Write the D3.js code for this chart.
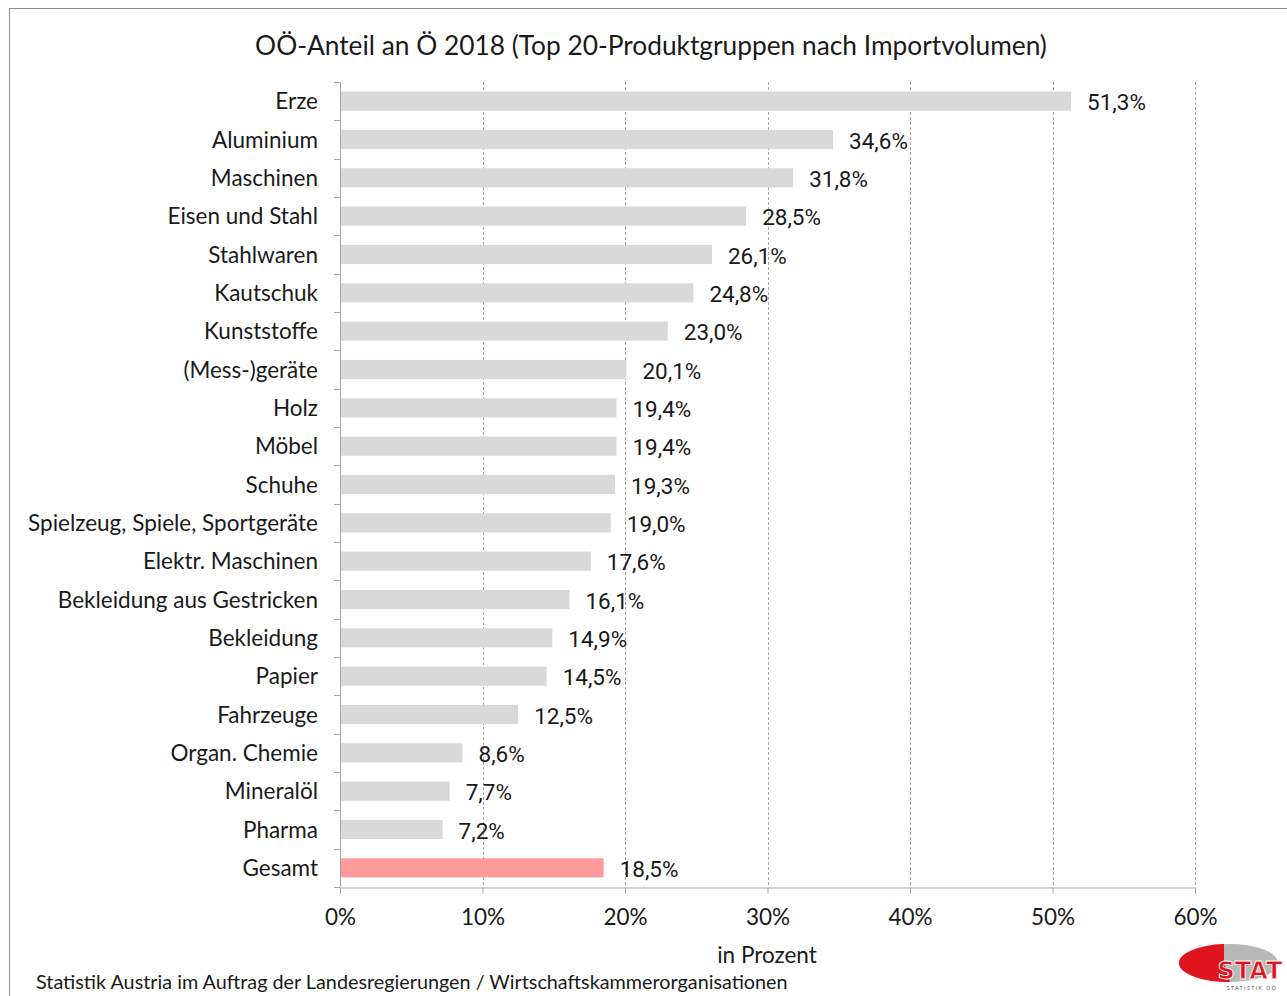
<!DOCTYPE html>
<html>
<head>
<meta charset="utf-8">
<script src="https://cdn.jsdelivr.net/npm/d3@7"></script>
<style>
  body { margin: 0; background: #fff; }
  svg { display: block; font-family: Lato, 'Open Sans', sans-serif; }
</style>
</head>
<body>
<div id="chart"></div>
<script>
(function() {
  'use strict';

  var categories = ['Erze', 'Aluminium', 'Maschinen', 'Eisen und Stahl', 'Stahlwaren', 'Kautschuk',
    'Kunststoffe', '(Mess-)geräte', 'Holz', 'Möbel', 'Schuhe', 'Spielzeug, Spiele, Sportgeräte',
    'Elektr. Maschinen', 'Bekleidung aus Gestricken', 'Bekleidung', 'Papier', 'Fahrzeuge',
    'Organ. Chemie', 'Mineralöl', 'Pharma', 'Gesamt'];
  var shares = [51.3, 34.6, 31.8, 28.5, 26.1, 24.8, 23.0, 20.1, 19.4, 19.4, 19.3, 19.0,
    17.6, 16.1, 14.9, 14.5, 12.5, 8.6, 7.7, 7.2, 18.5];
  var xTicks = [0, 10, 20, 30, 40, 50, 60];

  var width = 1287, height = 996;
  var left = 340, right = 1195, top = 82, bottom = 887;

  var svg = d3.select('#chart').append('svg')
    .attr('width', width).attr('height', height);

  // outer frame
  svg.append('rect')
    .attr('x', 9.5).attr('y', 8.5).attr('width', width - 9).attr('height', height)
    .style('fill', 'none').style('stroke', '#8c8c8c').style('stroke-width', 1);

  var x = d3.scaleLinear().domain([0, 60]).range([left, right]);
  var y = d3.scaleBand().domain(categories).range([top, bottom]).paddingInner(0.5).paddingOuter(0.25);

  // gridlines
  svg.append('g').selectAll('line')
    .data(xTicks.slice(1))
    .join('line')
    .attr('x1', function(d) { return Math.round(x(d)) + 0.5; })
    .attr('x2', function(d) { return Math.round(x(d)) + 0.5; })
    .attr('y1', top).attr('y2', bottom)
    .style('stroke', '#a6a6a6').style('stroke-dasharray', '3,2').style('stroke-width', 1);

  // bars
  svg.append('g').selectAll('rect')
    .data(categories)
    .join('rect')
    .attr('x', x(0))
    .attr('y', function(d) { return y(d); })
    .attr('width', function(d, i) { return x(shares[i]) - x(0); })
    .attr('height', y.bandwidth())
    .style('fill', function(d) { return d === 'Gesamt' ? '#ff9b9b' : '#d9d9d9'; });

  // value labels
  svg.append('g').selectAll('text')
    .data(categories)
    .join('text')
    .attr('x', function(d, i) { return x(shares[i]) + 16; })
    .attr('y', function(d) { return y(d) + y.bandwidth() / 2 + 1; })
    .attr('dy', '0.36em')
    .style('font-family', 'Roboto, sans-serif')
    .style('font-size', '22.5px')
    .style('fill', '#1a1a1a')
    .text(function(d, i) { return d3.format('.1f')(shares[i]).replace('.', ',') + '%'; });

  // y axis
  var step = y.step();
  svg.append('line')
    .attr('x1', left + 0.5).attr('x2', left + 0.5).attr('y1', top).attr('y2', bottom)
    .style('stroke', '#a6a6a6');
  svg.append('g').selectAll('line')
    .data(d3.range(categories.length + 1))
    .join('line')
    .attr('x1', left - 6).attr('x2', left)
    .attr('y1', function(i) { return Math.round(top + i * step) + 0.5; })
    .attr('y2', function(i) { return Math.round(top + i * step) + 0.5; })
    .style('stroke', '#a6a6a6');
  svg.append('g').selectAll('text')
    .data(categories)
    .join('text')
    .attr('x', left - 22)
    .attr('y', function(d) { return y(d) + y.bandwidth() / 2; })
    .attr('dy', '0.36em')
    .attr('text-anchor', 'end')
    .style('font-size', '22.5px')
    .style('fill', '#1a1a1a')
    .text(function(d) { return d; });

  // x axis
  var xAxis = svg.append('g')
    .attr('transform', 'translate(0,' + (bottom + 0.5) + ')')
    .call(d3.axisBottom(x).tickValues(xTicks).tickSize(6).tickPadding(16)
      .tickFormat(function(d) { return d + '%'; }));
  xAxis.select('.domain').style('stroke', '#a6a6a6');
  xAxis.selectAll('.tick line').style('stroke', '#a6a6a6');
  xAxis.selectAll('.tick text')
    .style('font-family', 'Lato, sans-serif')
    .style('font-size', '22.5px')
    .style('fill', '#1a1a1a');

  // title
  svg.append('text')
    .attr('x', 651).attr('y', 55)
    .attr('text-anchor', 'middle')
    .style('font-size', '26.3px')
    .style('fill', '#1a1a1a')
    .text('OÖ-Anteil an Ö 2018 (Top 20-Produktgruppen nach Importvolumen)');

  // axis title
  svg.append('text')
    .attr('x', 767).attr('y', 963)
    .attr('text-anchor', 'middle')
    .style('font-size', '22.5px')
    .style('fill', '#1a1a1a')
    .text('in Prozent');

  // source
  svg.append('text')
    .attr('x', 36).attr('y', 989)
    .style('font-size', '19.8px')
    .style('fill', '#1a1a1a')
    .text('Statistik Austria im Auftrag der Landesregierungen / Wirtschaftskammerorganisationen');

  // logo
  var logo = svg.append('g').attr('transform', 'translate(1230,963)');
  logo.append('ellipse').attr('rx', 48).attr('ry', 19).style('fill', '#b8b8b8');
  logo.append('path')
    .attr('d', 'M-6,-19 A48,19 0 1,0 0,19 L-6,0 Z')
    .style('fill', '#e0141e');
  logo.append('text')
    .attr('x', 20).attr('y', 16)
    .attr('text-anchor', 'middle')
    .style('font-family', 'DejaVu Sans, sans-serif')
    .style('font-weight', 'bold')
    .style('font-size', '24px')
    .style('fill', '#e0141e')
    .style('stroke', '#fff').style('stroke-width', 0.8)
    .text('STAT');
  logo.append('text')
    .attr('x', 22).attr('y', 27)
    .attr('text-anchor', 'middle')
    .style('font-size', '5px')
    .style('letter-spacing', '1.5px')
    .style('fill', '#555')
    .text('STATISTIK OÖ');
})();
</script>
</body>
</html>
